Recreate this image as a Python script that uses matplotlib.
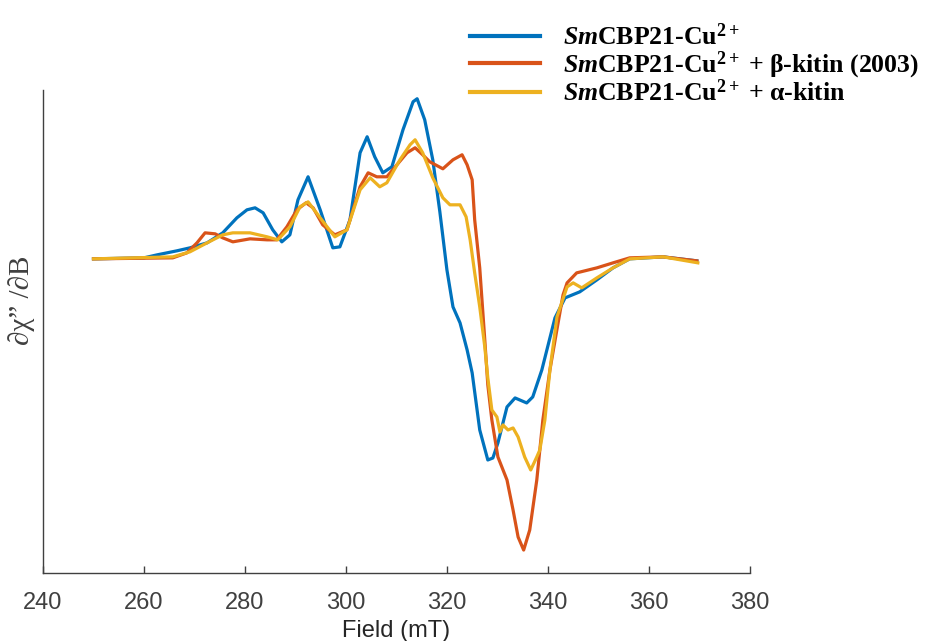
import matplotlib
matplotlib.use('Agg')
from matplotlib import pyplot as plt
import numpy as np

# EPR derivative spectra, field in mT, intensity in arbitrary units
field_cu = [250.0, 260.0, 262.6, 266.5, 269.1, 272.5, 275.6, 278.4, 280.4, 282.0,
            283.6, 285.5, 287.3, 288.9, 290.5, 292.5, 294.9, 297.4, 298.8, 300.8,
            302.8, 304.2, 305.7, 307.3, 309.1, 311.3, 313.3, 314.1, 315.6, 317.2,
            318.6, 320.0, 321.2, 322.6, 324.0, 325.0, 326.5, 328.1, 329.1, 330.1,
            331.9, 333.5, 335.8, 337.0, 338.8, 341.4, 343.4, 346.3, 349.7, 352.9,
            356.2, 362.8, 369.5]
signal_cu = [-1, 0, 3, 7, 10, 15, 25, 40, 48, 50,
             45, 28, 16, 23, 58, 81, 48, 10, 11, 38,
             105, 121, 101, 85, 91, 128, 156, 159, 138, 98,
             46, -12, -49, -65, -92, -115, -172, -202, -200, -185,
             -149, -140, -145, -139, -112, -60, -40, -34, -22, -10,
             -1, 1, -3]

field_beta = [250.0, 265.7, 268.5, 270.5, 272.1, 274.1, 275.6, 277.6, 281.0, 284.4,
              286.3, 288.3, 290.3, 292.1, 293.5, 295.4, 297.8, 300.2, 302.8, 304.4,
              306.1, 308.1, 310.1, 312.1, 313.7, 315.2, 316.6, 319.2, 321.2, 323.0,
              324.0, 325.0, 325.5, 326.5, 327.5, 328.1, 328.9, 330.1, 331.9, 333.1,
              334.1, 335.2, 336.4, 337.8, 339.0, 340.4, 341.6, 343.0, 343.8, 345.7,
              349.7, 352.9, 356.2, 362.8, 369.5]
signal_beta = [-1, 0, 5, 15, 25, 24, 20, 16, 19, 18,
               18, 31, 48, 55, 50, 33, 23, 28, 71, 85,
               81, 81, 93, 105, 110, 103, 96, 89, 98, 103,
               93, 78, 38, -10, -82, -127, -162, -199, -222, -252,
               -279, -292, -272, -222, -162, -112, -77, -37, -25, -15,
               -10, -5, 0, 1, -3]

field_alpha = [250.0, 265.7, 269.1, 272.5, 275.6, 277.6, 281.0, 284.4, 286.5, 288.9,
               290.9, 292.5, 294.9, 297.8, 300.2, 302.8, 304.8, 306.7, 308.1, 310.7,
               312.7, 313.7, 315.2, 317.2, 319.2, 320.6, 322.6, 323.8, 324.6, 325.5,
               326.5, 327.5, 328.1, 328.9, 329.9, 330.5, 331.1, 332.1, 333.1, 334.1,
               335.4, 336.6, 337.8, 338.4, 339.4, 340.4, 341.8, 343.8, 345.0, 346.7,
               349.7, 352.9, 356.2, 362.8, 369.7]
signal_alpha = [-1, 1, 6, 15, 23, 25, 25, 21, 18, 31,
                51, 56, 40, 21, 28, 68, 80, 71, 75, 98,
                113, 118, 105, 80, 60, 53, 53, 41, 18, -15,
                -49, -89, -120, -152, -159, -174, -167, -172, -170, -179,
                -199, -212, -199, -192, -162, -112, -59, -29, -25, -30,
                -20, -10, -1, 1, -5]

labels = [r'$\mathit{Sm}$CBP21-Cu$^{\mathrm{2+}}$',
          r'$\mathit{Sm}$CBP21-Cu$^{\mathrm{2+}}$ + β-kitin (2003)',
          r'$\mathit{Sm}$CBP21-Cu$^{\mathrm{2+}}$ + α-kitin']
colors = ['#0072BD', '#D95319', '#EDB120']

plt.rcParams['font.family'] = ['Liberation Sans', 'DejaVu Sans']
plt.rcParams['mathtext.fontset'] = 'custom'
plt.rcParams['mathtext.rm'] = 'Liberation Serif:bold'
plt.rcParams['mathtext.it'] = 'Liberation Serif:italic:bold'
plt.rcParams['mathtext.bf'] = 'Liberation Serif:bold'

fig = plt.figure(figsize=(9.45, 6.41), dpi=100)
ax = fig.add_axes([0.0455, 0.106, 0.748, 0.754])

for fx, sy, lab, col in zip([field_cu, field_beta, field_alpha],
                            [signal_cu, signal_beta, signal_alpha], labels, colors):
    ax.plot(fx, sy, color=col, lw=2.3, label=lab)

ax.set_xlim(240, 380)
ax.set_ylim(-315, 168)
ax.set_xticks(np.arange(240, 381, 20))
ax.set_yticks([])
ax.tick_params(axis='x', direction='in', length=5, width=1, colors='#404040',
               labelsize=17, pad=14)
for s in ['top', 'right']:
    ax.spines[s].set_visible(False)
for s in ['left', 'bottom']:
    ax.spines[s].set_color('#404040')
    ax.spines[s].set_linewidth(1)

ax.set_xlabel('Field (mT)', fontsize=17, color='#262626', labelpad=4)
ax.set_ylabel('∂χ” /∂B', fontsize=21, color='#404040',
              family=['Liberation Serif', 'DejaVu Serif'])
ax.yaxis.set_label_coords(-0.012, 0.565)

leg = fig.legend(loc='upper left', bbox_to_anchor=(0.497, 0.963), frameon=False,
                 prop={'family': 'Liberation Serif', 'weight': 'bold', 'size': 18.5},
                 handlelength=2.75, handletextpad=0.9, labelspacing=-0.04,
                 borderpad=0, borderaxespad=0)
for h in leg.get_lines():
    h.set_linewidth(3)

fig.savefig('out.png', dpi=100)
